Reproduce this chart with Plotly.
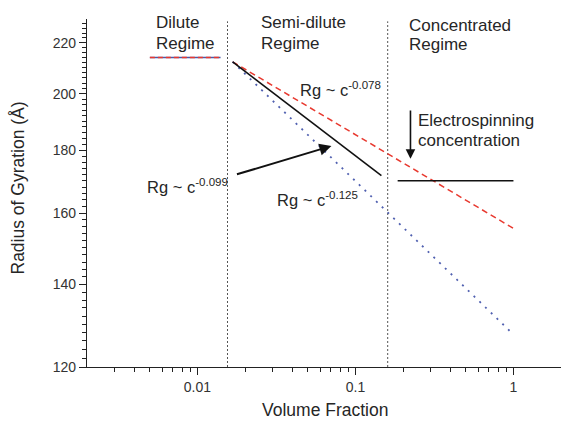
import math
import plotly.graph_objects as go

# ---- data ----
dilute_x = [0.005, 0.014]
dilute_y = [214, 214]
boundary_x = [0.0155, 0.16]
boundary_y = [120, 229]
semi_x = [0.0167, 0.146]
semi_y = [212.3, 171.6]
red_x = [0.0167, 1.0]
red_y = [212.3, 155.5]
blue_x = [0.0167, 0.97]
blue_y = [212.3, 128.0]
conc_x = [0.185, 1.0]
conc_y = [170, 170]
arrow_down = dict(x=0.223, y_from=194.4, y_to=177.1)
arrow_diag = dict(x_from=0.0174, y_from=171.9, x_to=0.0705, y_to=181.4)

x_ticks = [0.01, 0.1, 1]
x_ticklabels = ["0.01", "0.1", "1"]
y_ticks = [120, 140, 160, 180, 200, 220]

FONT = "Liberation Sans, Arial, sans-serif"
TXT = "#262626"

fig = go.Figure()

# boundary lines
for bx in boundary_x:
    fig.add_trace(go.Scatter(x=[bx, bx], y=boundary_y, mode="lines",
                             line=dict(color="#555555", width=1, dash="2px,2px"),
                             hoverinfo="skip", showlegend=False))

# dilute regime plateau
fig.add_trace(go.Scatter(x=dilute_x, y=dilute_y, mode="lines",
                         line=dict(color="#4a5aa8", width=1.5),
                         showlegend=False))
fig.add_trace(go.Scatter(x=dilute_x, y=dilute_y, mode="lines",
                         line=dict(color="#e8392f", width=1.6, dash="5px,3px"),
                         showlegend=False))

# red dashed c^-0.078
fig.add_trace(go.Scatter(x=red_x, y=red_y, mode="lines",
                         line=dict(color="#e8392f", width=1.5, dash="6px,4px"),
                         showlegend=False))
# blue dotted c^-0.125
fig.add_trace(go.Scatter(x=blue_x, y=blue_y, mode="lines",
                         line=dict(color="#5060b0", width=1.8, dash="2px,6px"),
                         showlegend=False))
# black solid c^-0.099
fig.add_trace(go.Scatter(x=semi_x, y=semi_y, mode="lines",
                         line=dict(color="#111111", width=1.6),
                         showlegend=False))
# concentrated horizontal
fig.add_trace(go.Scatter(x=conc_x, y=conc_y, mode="lines",
                         line=dict(color="#111111", width=1.4),
                         showlegend=False))

L = math.log10
annots = []
# arrows
annots.append(dict(x=L(arrow_down["x"]), y=L(arrow_down["y_to"]),
                   ax=L(arrow_down["x"]), ay=L(arrow_down["y_from"]),
                   xref="x", yref="y", axref="x", ayref="y", text="",
                   showarrow=True, arrowhead=2, arrowsize=1.2, arrowwidth=1.6,
                   arrowcolor="#111111"))
annots.append(dict(x=L(arrow_diag["x_to"]), y=L(arrow_diag["y_to"]),
                   ax=L(arrow_diag["x_from"]), ay=L(arrow_diag["y_from"]),
                   xref="x", yref="y", axref="x", ayref="y", text="",
                   showarrow=True, arrowhead=2, arrowsize=1.2, arrowwidth=2,
                   arrowcolor="#111111"))

def px2paper(px, py):
    return (px - 87) / 474.0, (367 - py) / 348.0

def txt(text, px, py, size=17, xanchor="left"):
    x, y = px2paper(px, py)
    annots.append(dict(x=x, y=y, xref="paper", yref="paper", text=text,
                       showarrow=False, xanchor=xanchor, yanchor="middle",
                       align="left", borderpad=0,
                       font=dict(family=FONT, size=size, color=TXT)))

txt("Dilute", 155, 23)
txt("Regime", 155, 43)
txt("Semi-dilute", 260, 23)
txt("Regime", 260, 43)
txt("Concentrated", 408, 25)
txt("Regime", 408, 45)
txt("Rg ~ c<sup>-0.078</sup>", 299, 89, size=16.5)
txt("Rg ~ c<sup>-0.099</sup>", 146, 186, size=16.5)
txt("Rg ~ c<sup>-0.125</sup>", 276, 199, size=16.5)
txt("Electrospinning", 417, 120)
txt("concentration", 417, 140)

# axis titles
annots.append(dict(x=(324.5 - 87) / 474, y=(367 - 410) / 348, xref="paper", yref="paper",
                   text="Volume Fraction", showarrow=False,
                   xanchor="center", yanchor="middle",
                   font=dict(family=FONT, size=17.5, color=TXT)))
annots.append(dict(x=(18 - 87) / 474, y=(367 - 188.5) / 348, xref="paper", yref="paper",
                   text="Radius of Gyration (Å)", showarrow=False, textangle=-90,
                   xanchor="center", yanchor="middle",
                   font=dict(family=FONT, size=17.5, color=TXT)))

x_minor = [m * 10 ** e for e in (-3, -2, -1, 0) for m in range(2, 10)]
x_minor = [v for v in x_minor if 0.002 < v < 2 and v not in x_ticks]
y_minor = [v for v in range(122, 230, 2) if v not in y_ticks]

fig.update_layout(
    width=561, height=421,
    margin=dict(l=87, r=0, t=19, b=54),
    paper_bgcolor="white", plot_bgcolor="white",
    font=dict(family=FONT, size=14, color=TXT),
    annotations=annots,
    xaxis=dict(type="log", range=[L(0.002), L(2)], showgrid=False, zeroline=False,
               showline=True, linecolor="#222222", linewidth=1.2,
               ticks="outside", ticklen=7, tickwidth=1.2, tickcolor="#222222",
               tickmode="array", tickvals=x_ticks, ticktext=x_ticklabels,
               tickfont=dict(family=FONT, size=14, color="#333333"),
               minor=dict(ticks="outside", ticklen=4, tickwidth=1, tickcolor="#222222",
                          tickmode="array", tickvals=x_minor, showgrid=False)),
    yaxis=dict(type="log", range=[L(120), L(230)], showgrid=False, zeroline=False,
               showline=True, linecolor="#222222", linewidth=1.2,
               ticks="outside", ticklen=7, tickwidth=1.2, tickcolor="#222222",
               tickmode="array", tickvals=y_ticks, ticktext=[str(v) for v in y_ticks],
               tickfont=dict(family=FONT, size=14, color="#333333"),
               minor=dict(ticks="outside", ticklen=4, tickwidth=1, tickcolor="#222222",
                          tickmode="array", tickvals=y_minor, showgrid=False)),
)

fig.write_html("out.html")
